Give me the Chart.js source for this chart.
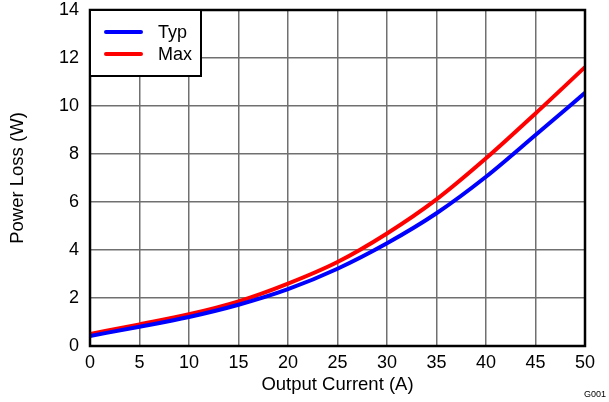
<!DOCTYPE html>
<html>
<head>
<meta charset="utf-8">
<script src="https://cdn.jsdelivr.net/npm/chart.js@4/dist/chart.umd.min.js"></script>
<style>
  html, body { margin: 0; padding: 0; background: #fff; }
  #wrap { width: 609px; height: 402px; }
</style>
</head>
<body>
<div id="wrap"><canvas id="c" width="609" height="402"></canvas></div>
<script>
// Output current (A)
const current = [0, 5, 10, 15, 20, 25, 30, 35, 40, 45, 50];
// Power loss (W)
const typLoss = [0.42, 0.80, 1.21, 1.72, 2.37, 3.22, 4.28, 5.53, 7.05, 8.79, 10.55];
const maxLoss = [0.50, 0.90, 1.32, 1.86, 2.60, 3.50, 4.69, 6.11, 7.82, 9.69, 11.62];
const xTicks = [0, 5, 10, 15, 20, 25, 30, 35, 40, 45, 50];
const yTicks = [0, 2, 4, 6, 8, 10, 12, 14];

const FONT = "'Liberation Sans', Arial, sans-serif";

// Black frame round the plot, boxed legend and the figure tag
const decor = {
  id: 'decor',
  afterDatasetsDraw(chart) {
    const { ctx, chartArea: a } = chart;
    ctx.save();
    ctx.strokeStyle = '#000';
    ctx.lineWidth = 2.5;
    ctx.strokeRect(a.left, a.top, a.right - a.left, a.bottom - a.top);

    // legend
    const lx = a.left, ly = a.top, lw = 111, lh = 66;
    ctx.fillStyle = '#fff';
    ctx.fillRect(lx, ly, lw, lh);
    ctx.lineWidth = 2;
    ctx.strokeRect(lx, ly, lw, lh);
    ctx.lineCap = 'round';
    ctx.font = '18px ' + FONT;
    ctx.textBaseline = 'middle';
    chart.data.datasets.forEach((ds, i) => {
      const y = ly + 22 + i * 22;
      ctx.strokeStyle = ds.borderColor;
      ctx.lineWidth = 4;
      ctx.beginPath();
      ctx.moveTo(lx + 16, y);
      ctx.lineTo(lx + 51, y);
      ctx.stroke();
      ctx.fillStyle = '#000';
      ctx.fillText(ds.label, lx + 68, y + 1);
    });

    ctx.font = '9px ' + FONT;
    ctx.fillStyle = '#000';
    ctx.textAlign = 'right';
    ctx.textBaseline = 'middle';
    ctx.fillText('G001', 606, 395);
    ctx.restore();
  }
};

new Chart(document.getElementById('c'), {
  type: 'line',
  data: {
    datasets: [
      {
        label: 'Typ',
        data: current.map((x, i) => ({ x, y: typLoss[i] })),
        borderColor: '#0000ff',
        borderWidth: 4,
        pointRadius: 0,
        cubicInterpolationMode: 'monotone',
        fill: false
      },
      {
        label: 'Max',
        data: current.map((x, i) => ({ x, y: maxLoss[i] })),
        borderColor: '#ff0000',
        borderWidth: 4,
        pointRadius: 0,
        cubicInterpolationMode: 'monotone',
        fill: false
      }
    ]
  },
  options: {
    responsive: false,
    animation: false,
    layout: { padding: { top: 10, right: 24, bottom: 0, left: 0 } },
    plugins: { legend: { display: false }, tooltip: { enabled: false } },
    scales: {
      x: {
        type: 'linear',
        min: 0,
        max: 50,
        afterBuildTicks: s => { s.ticks = xTicks.map(v => ({ value: v })); },
        afterFit: s => { s.height = 56; s.paddingLeft = 0; s.paddingRight = 0; },
        grid: { color: '#707070', lineWidth: 1.5, drawTicks: false },
        border: { display: false },
        ticks: { color: '#000', font: { family: FONT, size: 18 }, padding: 6, maxRotation: 0 },
        title: {
          display: true,
          text: 'Output Current (A)',
          color: '#000',
          font: { family: FONT, size: 18.5 },
          padding: { top: 0, bottom: 6 }
        }
      },
      y: {
        type: 'linear',
        min: 0,
        max: 14,
        afterBuildTicks: s => { s.ticks = yTicks.map(v => ({ value: v })); },
        afterFit: s => { s.width = 90; s.paddingTop = 0; s.paddingBottom = 0; },
        grid: { color: '#707070', lineWidth: 1.5, drawTicks: false },
        border: { display: false },
        ticks: { color: '#000', font: { family: FONT, size: 18 }, padding: 11 },
        title: {
          display: true,
          text: 'Power Loss (W)',
          color: '#000',
          font: { family: FONT, size: 18.5 },
          padding: { top: 7, bottom: 0 }
        }
      }
    }
  },
  plugins: [decor]
});
</script>
</body>
</html>
